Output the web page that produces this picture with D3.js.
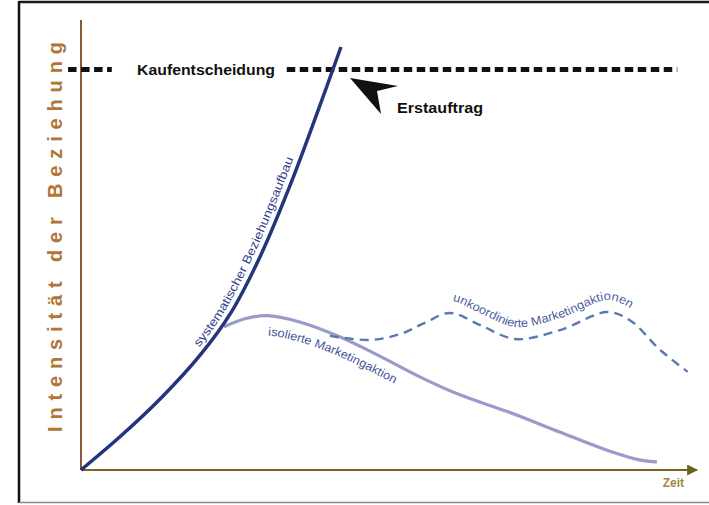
<!DOCTYPE html>
<html>
<head>
<meta charset="utf-8">
<script src="https://cdn.jsdelivr.net/npm/d3@7"></script>
<style>
  body { margin: 0; background: #fff; }
  svg { display: block; font-family: "Liberation Sans", Arial, sans-serif; }
</style>
</head>
<body>
<div id="chart"></div>
<script>
// Zeit (0..100) vs. Intensität der Beziehung (0..100)
let systematisch = [[0,0],[6.5,7.6],[13,16],[19.5,25.8],[24.4,35.1],[29.2,47.8],[34.1,63.8],[38.2,78.8],[42.2,94]];
let isoliert = [[23.2,31.8],[26.6,33.6],[30.2,34.3],[35.5,32.9],[42,29.6],[48.5,25.3],[55,20.7],[61.5,16.7],[69.2,13],[77.8,8.4],[85.4,4.4],[90.8,2.2],[93.5,1.8]];
let unkoordiniert = [[40.4,29.8],[46.9,28.9],[51.8,30.2],[55.8,32.7],[59.9,34.9],[64.8,32.2],[70.5,29.1],[77.8,31.1],[85.4,35.1],[89.1,33.3],[94,26.7],[98.5,21.8]];

let kaufLevel = 89;
let kaufLinks = [-2.1, 5];
let kaufRechts = [33.4, 96.8];

let labels = {
  y: "Intensität der Beziehung",
  x: "Zeit",
  kauf: "Kaufentscheidung",
  erst: "Erstauftrag",
  sys: "systematischer Beziehungsaufbau",
  iso: "isolierte Marketingaktion",
  unk: "unkoordinierte Marketingaktionen"
};

function renderChart(){
  let width = 709, height = 505;

  let svg = d3.select("#chart")
    .append("svg")
    .attr("width", width)
    .attr("height", height);

  let x = d3.scaleLinear().domain([0, 100]).range([81, 697]);
  let y = d3.scaleLinear().domain([0, 100]).range([470, 20]);

  // frame
  svg.append("line").attr("x1", 19).attr("x2", width).attr("y1", 2).attr("y2", 2)
    .attr("stroke", "#1a1a1a").attr("stroke-width", 2.5);
  svg.append("line").attr("x1", 19).attr("x2", 19).attr("y1", 1).attr("y2", 503)
    .attr("stroke", "#111").attr("stroke-width", 2.5);
  svg.append("line").attr("x1", 19).attr("x2", width).attr("y1", 502.5).attr("y2", 502.5)
    .attr("stroke", "#8a8a8a").attr("stroke-width", 1.5);

  let defs = svg.append("defs");
  defs.append("marker")
    .attr("id", "arrow")
    .attr("viewBox", "0 0 10 10")
    .attr("refX", 9).attr("refY", 5)
    .attr("markerWidth", 5).attr("markerHeight", 5)
    .attr("markerUnits", "strokeWidth")
    .attr("orient", "auto")
    .append("path")
    .attr("d", "M0,0 L10,5 L0,10 Z")
    .attr("fill", "#6b6418");

  // axes
  svg.append("line")
    .attr("x1", x(0)).attr("x2", x(0))
    .attr("y1", y(0)).attr("y2", y(100))
    .attr("stroke", "#8a5a32").attr("stroke-width", 2);
  svg.append("line")
    .attr("x1", x(0)).attr("x2", x(100))
    .attr("y1", y(0)).attr("y2", y(0))
    .attr("stroke", "#7d6224").attr("stroke-width", 2.2)
    .attr("marker-end", "url(#arrow)");

  svg.append("text")
    .attr("transform", "translate(62,237) rotate(-90)")
    .attr("text-anchor", "middle")
    .attr("textLength", 390)
    .attr("lengthAdjust", "spacing")
    .style("font-size", "20px")
    .style("font-weight", "bold")
    .style("fill", "#b07636")
    .text(labels.y);

  svg.append("text")
    .attr("x", 684).attr("y", 487)
    .attr("text-anchor", "end")
    .style("font-size", "12px")
    .style("font-weight", "bold")
    .style("fill", "#9c8a3c")
    .text(labels.x);

  // Kaufentscheidung
  [kaufLinks, kaufRechts].forEach(function(seg){
    svg.append("line")
      .attr("x1", x(seg[0])).attr("x2", x(seg[1]))
      .attr("y1", y(kaufLevel)).attr("y2", y(kaufLevel))
      .attr("stroke", "#111")
      .attr("stroke-width", 5)
      .attr("stroke-dasharray", "8.5,4.5");
  });
  svg.append("text")
    .attr("x", 137).attr("y", y(kaufLevel) + 5)
    .attr("textLength", 138)
    .attr("lengthAdjust", "spacingAndGlyphs")
    .style("font-size", "14.5px")
    .style("font-weight", "bold")
    .style("fill", "#111")
    .text(labels.kauf);

  let line = d3.line()
    .x(d => x(d[0]))
    .y(d => y(d[1]))
    .curve(d3.curveCatmullRom.alpha(0.5));

  svg.append("path")
    .attr("d", line(isoliert))
    .attr("fill", "none")
    .attr("stroke", "#9a9acb")
    .attr("stroke-width", 3.2);

  svg.append("path")
    .attr("d", line(unkoordiniert))
    .attr("fill", "none")
    .attr("stroke", "#5a79b2")
    .attr("stroke-width", 2.4)
    .attr("stroke-dasharray", "9,6");

  svg.append("path")
    .attr("d", line(systematisch))
    .attr("fill", "none")
    .attr("stroke", "#24357c")
    .attr("stroke-width", 3.5);

  // arrow Erstauftrag
  svg.append("path")
    .attr("d", "M350,78 L398,86 L377,91 L381,114 Z")
    .attr("fill", "#111");
  svg.append("text")
    .attr("x", 397).attr("y", 113)
    .attr("textLength", 86)
    .attr("lengthAdjust", "spacingAndGlyphs")
    .style("font-size", "14px")
    .style("font-weight", "bold")
    .style("fill", "#111")
    .text(labels.erst);

  // labels along the curves
  function offsetLine(dx, dy){
    return d3.line()
      .x(d => x(d[0]) + dx)
      .y(d => y(d[1]) + dy)
      .curve(d3.curveCatmullRom.alpha(0.5));
  }
  function lengthAtX(node, tx){
    let total = node.getTotalLength();
    for (let l = 0; l < total; l += 0.5) {
      if (node.getPointAtLength(l).x >= tx) return l;
    }
    return 0;
  }
  function curveLabel(id, data, dx, dy, startX, len, txt, color){
    let p = defs.append("path").attr("id", id).attr("d", offsetLine(dx, dy)(data));
    svg.append("text")
      .style("font-size", "12px")
      .style("fill", color)
      .append("textPath")
      .attr("href", "#" + id)
      .attr("startOffset", lengthAtX(p.node(), startX))
      .attr("textLength", len)
      .attr("lengthAdjust", "spacingAndGlyphs")
      .text(txt);
  }
  curveLabel("sysPath", systematisch, -7, 0, 199, 212, labels.sys, "#34418a");
  curveLabel("isoPath", isoliert, 0, 20, 268, 136, labels.iso, "#45549a");
  curveLabel("unkPath", unkoordiniert, 0, -12, 452, 190, labels.unk, "#4d5f9e");
}

renderChart()
</script>
</body>
</html>
